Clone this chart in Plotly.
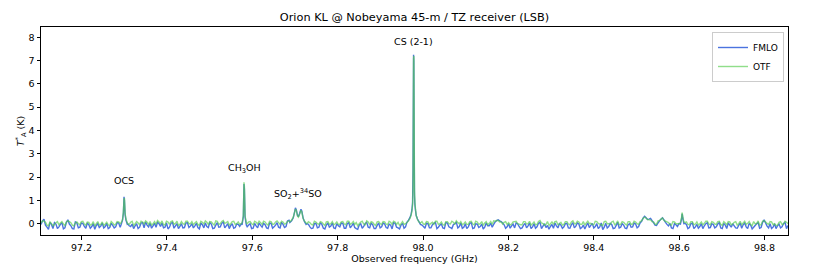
import numpy as np
import plotly.graph_objects as go

# ---- baseline sampling (GHz): main samples and half-step samples ----
f_start = 97.105
f_step = 0.007
f_mid_start = 97.1085
unit_K = 0.015   # baseline lists are given in units of 0.015 K

# baseline values (units of 0.015 K)
fmlo_base_u = [
    -2, 13, -10, 4, -14, -1, -9, 3, -12, 11, -6, -15, 2, -10, 1, -13, -3, -8, -16, 0, -7, -12, 1, -11, -5,
    -9, 2, 0, 0, 0, -8, -14, 0, -10, 3, 5, -9, -13, 1, 4, -8, -12, 2, -10, 4, -6, -14, 0, -11, 3,
    -7, -12, 1, -15, -3, 2, -11, -1, -13, 3, -9, 5, -6, -14, 0, -11, -2, 0, 0, -9, 0, -13, -6, 2, -10,
    -3, -14, 1, -9, 3, -12, -2, -8, 10, 0, 0, 0, 0, 0, 0, -9, -13, 1, -10, -2, -15, 2, -7, -12, 0,
    -9, 1, -13, 3, -6, -11, -16, 0, -8, 4, -12, -3, -14, 2, -9, -1, -13, -4, 3, -10, -15, 1, -9, -2, -12,
    0, 0, 0, -8, 1, -12, -3, 4, -10, -1, -14, 2, -11, -3, 4, -8, -13, 0, -9, 3, -12, -1, -8, -15, 2,
    -6, -10, 5, 11, 6, -3, -9, -13, -1, 2, -8, -12, 1, -6, -14, 0, -9, 4, -7, -11, -16, -2, 2, -12, -4,
    -9, 1, -13, 3, -7, -1, -11, -15, 2, -5, -12, 0, -9, -17, 1, -8, -2, -13, 4, -10, -4, -14, 0, -9, -1,
    -8, 7, 21, 12, 15, 3, -5, 8, 17, 4, -6, -12, 0, -8, 0, 0, -2, -11, 2, -9, -13, 0, -6, 3, -11,
    -2, -9, 3, -14, -4, 2, -10, -6, -13, 2, -3, -9, 1, -15, -5, 3, -11, 11, -7, 0, -10, -14, -1, -9, 4,
    -5,
]
fmlo_mid_u = [
    8, -4, -16, -2, 3, -14, -2, -15, 4, -1, -14, 5, -12, 2, -8, 2, -13, 0, -5, -11, 2, -8, -14, 1, -12,
    3, -10, 0, 0, -6, -1, -6, -14, 2, -12, -4, 1, -6, -10, 0, 2, -10, -15, 1, -13, 0, -8, -12, 2, -11,
    0, -6, -11, 2, -12, -8, 3, -14, -4, -10, 1, -12, 0, -5, -13, -1, -8, 0, 0, -4, -14, 1, -12, -5, 1,
    -12, 2, -13, -4, -10, 4, -11, 8, 0, 0, 0, 0, 0, 0, -2, -14, 0, -12, 3, -13, -4, -10, 2, -14, -6,
    2, -13, 0, -12, 1, -14, -4, -13, 1, -10, 2, -14, -5, -12, 2, -11, -1, -15, 1, -12, -4, -13, 0, -11, 1,
    0, 0, -4, -13, 0, -12, 1, -14, -4, -12, 3, -9, -14, 0, -12, 2, -10, -14, 1, -14, 0, -11, -1, -10, -6,
    1, -2, 9, 8, 2, -13, 0, -6, -12, 0, -14, -4, -12, 2, -9, -13, 1, -14, 0, -5, -8, -13, -6, 0, -13,
    0, -12, -3, -12, 2, -14, -4, -6, -11, 1, -8, -14, 2, -10, -12, 1, -14, -5, -12, 0, -13, -3, -10, 2, -12,
    2, 16, 17, 13, 9, -4, 2, 13, 11, -2, 1, -14, -3, 0, 0, 1, -14, 0, -14, -2, -8, -14, 0, -12, 0,
    -12, -1, -12, 1, -14, -4, 0, -12, -5, -13, 2, -14, -4, -10, 0, -13, 4, 2, -12, -14, 0, -6, -12, 0, -14,
]
otf_base_u = [
    2, 7, -4, 5, -6, 3, -3, 6, -5, 8, 3, -6, 5, -3, 7, -4, 4, -2, -7, 6, -2, -5, 4, -6, 2,
    -1, 5, 0, 0, 0, 4, -5, 6, -3, 5, 8, -2, -4, 6, 9, 0, -3, 7, -2, 8, 1, -5, 6, -2, 7,
    0, -3, 6, -5, 4, 8, -2, 5, -4, 7, 0, 9, 3, -4, 6, -2, 5, 0, 0, 0, 6, -3, 4, 7, -2,
    5, -4, 6, -1, 8, -2, 5, 1, 8, 0, 0, 0, 0, 0, 0, 3, -4, 5, -2, 4, -5, 6, 0, -3, 5,
    -2, 6, -3, 7, 1, -2, -6, 5, -1, 8, -3, 4, -5, 6, -2, 5, -3, 4, 7, -2, -5, 6, 0, 4, -3,
    0, 0, 0, -1, 6, -3, 4, 7, -2, 5, -4, 6, -1, 4, 8, 0, -3, 5, -2, 7, -3, 5, 0, -5, 6,
    1, -2, 7, 9, 5, 4, -2, -4, 5, 7, -1, -3, 6, 0, -4, 5, -2, 9, 0, -2, -5, 5, 6, -3, 4,
    -2, 6, -3, 8, 0, 5, -2, -4, 7, 1, -3, 6, -1, -5, 7, 0, 5, -3, 8, -2, 4, -4, 6, -1, 5,
    -2, 8, 19, 12, 11, 5, -2, 9, 16, 7, 3, -4, 5, 0, 0, 0, 5, -3, 6, -1, -4, 5, 1, 7, -3,
    4, -2, 7, -5, 2, 6, -3, 4, -4, 7, 2, -2, 6, -6, 0, 8, -3, 9, 1, 6, -3, -5, 4, -2, 7,
    0,
]
otf_mid_u = [
    8, 4, -6, 0, -2, 6, 2, -1, 5, 6, -4, 2, 0, 6, -1, 5, -4, 6, 0, -4, 5, -1, -3, 6, -4,
    6, 0, 0, 0, -2, 7, 0, 2, 7, -1, 4, 6, 0, -2, 5, 8, -3, 5, 6, -2, 7, -2, 0, 7, 0,
    6, 2, -2, 7, -1, 4, 6, 0, 8, -2, 6, 1, 6, 0, 7, 0, -2, 0, 0, 5, 0, 7, -1, 3, 7,
    -1, 7, -2, 5, 3, 7, -1, 7, 0, 0, 0, 0, 0, 0, 6, -2, 7, 0, 6, -1, 5, -2, 6, 0, -2,
    5, -1, 7, -2, 6, 3, 0, 7, -3, 5, 6, -2, 5, 0, 6, -1, 7, -2, 5, 4, 0, -2, 7, -1, 5,
    0, 0, 6, -2, 5, 1, -2, 7, 0, -3, 6, 0, 7, -1, 3, 6, 0, -2, 6, -1, 7, -2, 6, 2, -3,
    6, 8, 9, 5, -1, 6, 3, -1, 6, 0, -3, 6, -1, 7, 0, -3, 6, 2, -4, 6, 0, -2, 7, 0, -4,
    6, -1, 5, 0, 7, -2, 6, 2, 0, -2, 7, 1, -3, 6, 0, -2, 7, 0, -3, 6, -1, 6, -2, 7, 0,
    6, 15, 16, 11, 6, -1, 8, 13, 9, 5, -2, 6, 0, 0, 0, 3, -2, 6, -3, 5, 0, -3, 7, -1, 6,
    -1, 6, -2, 6, -3, 5, -1, 6, 0, -3, 7, 1, -2, 6, 0, -4, 7, 5, -2, 5, 0, -4, 6, -1, 4,
]

# ---- emission lines: frequency (GHz), FMLO T_A* (K), OTF T_A* (K) ----
ocs_f = [97.293, 97.296, 97.298, 97.2995, 97.3005, 97.302, 97.304, 97.307]
ocs_fmlo = [-0.02, 0.15, 0.45, 1.15, 1.0, 0.4, 0.15, -0.02]
ocs_otf = [0.05, 0.18, 0.5, 1.05, 1.1, 0.45, 0.2, 0.05]

ch3oh_f = [97.576, 97.579, 97.5805, 97.5815, 97.583, 97.586]
ch3oh_fmlo = [-0.05, 0.3, 1.7, 1.5, 0.3, -0.06]
ch3oh_otf = [0.04, 0.35, 1.78, 1.6, 0.35, 0.03]

so_f = [97.688, 97.692, 97.696, 97.699, 97.701, 97.703, 97.706, 97.708, 97.711, 97.714, 97.716, 97.719, 97.722, 97.726]
so_fmlo = [0.05, 0.12, 0.25, 0.5, 0.68, 0.6, 0.35, 0.3, 0.45, 0.62, 0.55, 0.25, 0.1, -0.03]
so_otf = [0.08, 0.15, 0.28, 0.48, 0.62, 0.58, 0.32, 0.28, 0.42, 0.58, 0.5, 0.22, 0.12, 0.03]

cs_f = [97.962, 97.966, 97.969, 97.972, 97.974, 97.9755, 97.9765, 97.9772, 97.9778, 97.9785,
        97.9792, 97.980, 97.981, 97.9825, 97.984, 97.987, 97.990, 97.994]
cs_fmlo = [0.05, 0.15, 0.25, 0.4, 0.6, 0.9, 2.3, 5.0, 7.25, 7.0, 3.5, 1.2, 0.8, 0.55, 0.35, 0.2, 0.1, -0.03]
cs_otf = [0.05, 0.12, 0.22, 0.35, 0.55, 0.8, 1.5, 4.5, 7.1, 7.2, 4.5, 1.4, 0.9, 0.6, 0.35, 0.18, 0.08, 0.03]

u986_f = [98.603, 98.6055, 98.607, 98.6085, 98.611]
u986_fmlo = [-0.02, 0.2, 0.42, 0.25, 0.0]
u986_otf = [0.05, 0.25, 0.48, 0.3, 0.08]

labels = ["OCS", "CH<sub>3</sub>OH", "SO<sub>2</sub>+<sup>34</sup>SO", "CS (2-1)"]
label_f = [97.300, 97.581, 97.707, 97.978]
label_y = [1.85, 2.37, 1.29, 7.8]

title = "Orion KL @ Nobeyama 45-m / TZ receiver (LSB)"
x_ticks = [97.2, 97.4, 97.6, 97.8, 98.0, 98.2, 98.4, 98.6, 98.8]
y_ticks = [0, 1, 2, 3, 4, 5, 6, 7, 8]

# ---- assemble spectra ----
lines = [
    (ocs_f, ocs_fmlo, ocs_otf),
    (ch3oh_f, ch3oh_fmlo, ch3oh_otf),
    (so_f, so_fmlo, so_otf),
    (cs_f, cs_fmlo, cs_otf),
    (u986_f, u986_fmlo, u986_otf),
]


def build(base_u, mid_u, idx):
    f_a = f_start + f_step * np.arange(len(base_u))
    f_b = f_mid_start + f_step * np.arange(len(mid_u))
    base_f = np.round(np.concatenate([f_a, f_b]), 5)
    base_v = np.concatenate([np.array(base_u), np.array(mid_u)]) * unit_K
    keep = np.ones(len(base_f), dtype=bool)
    for ln in lines:
        lo, hi = min(ln[0]), max(ln[0])
        keep &= ~((base_f >= lo) & (base_f <= hi))
    ff = list(base_f[keep])
    vv = list(base_v[keep])
    for ln in lines:
        ff += list(ln[0])
        vv += list(ln[idx])
    order = np.argsort(ff, kind="stable")
    return np.array(ff)[order], np.array(vv)[order]


fm_f, fm_v = build(fmlo_base_u, fmlo_mid_u, 1)
ot_f, ot_v = build(otf_base_u, otf_mid_u, 2)

fig = go.Figure()
fig.add_trace(go.Scatter(x=fm_f, y=fm_v, mode="lines", name="FMLO",
                         line=dict(color="rgba(55,100,220,0.9)", width=1.4, simplify=False)))
fig.add_trace(go.Scatter(x=ot_f, y=ot_v, mode="lines", name="OTF",
                         line=dict(color="rgba(85,205,75,0.65)", width=1.4, simplify=False)))

for t, xf, yv in zip(labels, label_f, label_y):
    fig.add_annotation(x=xf, y=yv, text=t, showarrow=False, xanchor="center",
                       yanchor="middle", font=dict(size=9.5, color="black"))

# page body adds an 8 px offset; margins compensate so the axes land where the reference has them
fig.update_layout(
    width=830, height=277,
    margin=dict(l=33, r=50, t=19, b=50),
    paper_bgcolor="white", plot_bgcolor="white",
    font=dict(family="DejaVu Sans", size=9.5, color="black"),
    title=dict(text=title, x=0.5, xref="paper", xanchor="center", y=1 - 9 / 277, yanchor="middle",
               font=dict(family="DejaVu Sans", size=11.3, color="black")),
    showlegend=True,
    legend=dict(x=1 - 4 / 747, y=1 - 5 / 208, xanchor="right", yanchor="top",
                bgcolor="rgba(255,255,255,0.8)", bordercolor="#cccccc", borderwidth=1,
                font=dict(size=9), itemwidth=30, tracegroupgap=0),
)
fig.update_xaxes(range=[97.105, 98.855], tickvals=x_ticks, ticktext=[f"{v:.1f}" for v in x_ticks],
                 ticks="outside", ticklen=3.5, tickwidth=0.8, tickcolor="black",
                 showline=True, linecolor="black", linewidth=1, mirror=True,
                 showgrid=False, zeroline=False,
                 title=dict(text="Observed frequency (GHz)", standoff=3, font=dict(size=9.5)))
fig.update_yaxes(range=[-0.485, 8.44], tickvals=y_ticks,
                 ticks="outside", ticklen=3.5, tickwidth=0.8, tickcolor="black",
                 showline=True, linecolor="black", linewidth=1, mirror=True,
                 showgrid=False, zeroline=False,
                 title=dict(text="<i>T</i><sup>*</sup><sub>A</sub> (K)", standoff=2, font=dict(size=9.5)))

fig.write_html("out.html")
